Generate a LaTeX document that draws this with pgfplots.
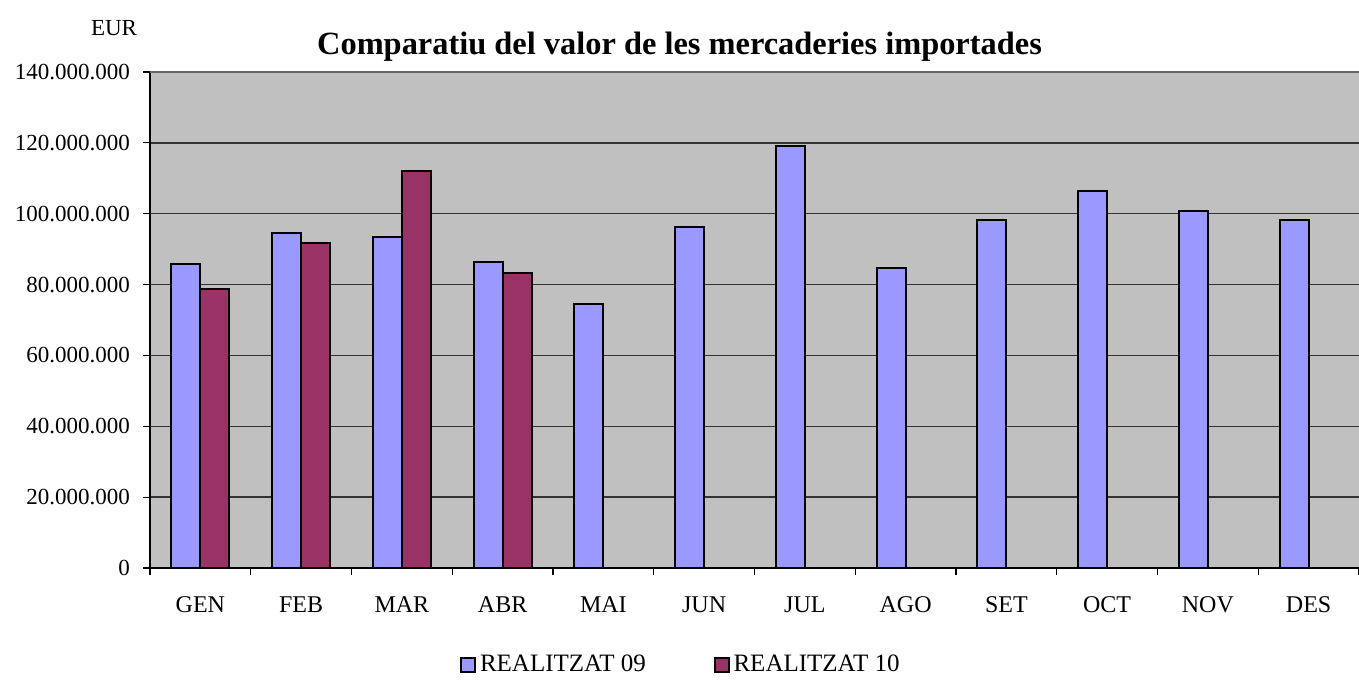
\documentclass[border=0pt]{standalone}
\usepackage{pgfplots}
\pgfplotsset{compat=1.18}
\usepackage{fontspec}
\setmainfont{Liberation Serif}
\definecolor{bg}{HTML}{C0C0C0}
\definecolor{c09}{HTML}{9999FF}
\definecolor{c10}{HTML}{993366}
\begin{document}
\begin{tikzpicture}
\path[use as bounding box] (0,0) rectangle (679.5pt,342pt);
\begin{axis}[
  at={(75pt,58pt)}, anchor=south west,
  scale only axis, width=604.5pt, height=248pt,
  xmin=0.5, xmax=12.5, ymin=0, ymax=140000000,
  ybar=0pt, bar width=14.5pt,
  axis background/.style={fill=bg},
  axis x line*=bottom, axis y line*=left,
  axis line style={black, line width=0.8pt},
  ytick={0,20000000,...,120000000},
  extra y ticks={140000000},
  extra y tick style={grid style={gray!80!black, line width=0.9pt}},
  ymajorgrids, grid style={black!80, line width=0.7pt},
  scaled y ticks=false,
  yticklabel style={/pgf/number format/fixed, /pgf/number format/precision=0, /pgf/number format/1000 sep={.}, /pgf/number format/assume math mode=true,
    font=\fontsize{11.5}{13}\selectfont, xshift=-3pt},
  xtick={0.5,1.5,...,12.5}, xticklabels={},
  extra x ticks={1,...,12},
  extra x tick labels={GEN,FEB,MAR,ABR,MAI,JUN,JUL,AGO,SET,OCT,NOV,DES},
  extra x tick style={major tick length=0pt, grid=none, tick label style={font=\fontsize{12}{14}\selectfont, yshift=-11pt}},
  tick align=outside, major tick length=3.5pt,
  tick style={black, line width=0.6pt},
  legend style={at={(0.44,-0.1956)}, anchor=center, draw=none, fill=none,
    legend columns=2, font=\fontsize{12.5}{14}\selectfont,
    /tikz/every even column/.append style={column sep=32pt}},
  legend image code/.code={\draw[#1, line width=0.8pt] (0pt,-3.5pt) rectangle (7pt,3.5pt);},
  legend cell align=left,
]
\addplot[fill=c09, draw=black, line width=1pt] coordinates {
(1,85800000) (2,94500000) (3,93400000) (4,86400000) (5,74500000) (6,96200000)
(7,119100000) (8,84700000) (9,98200000) (10,106400000) (11,100800000) (12,98200000)};
\addplot[fill=c10, draw=black, line width=1pt] coordinates {
(1,78700000) (2,91700000) (3,112000000) (4,83300000)};
\legend{REALITZAT 09, REALITZAT 10}
\end{axis}
\node[font=\fontsize{16.2}{18}\selectfont\bfseries] at (339.75pt,318.5pt) {Comparatiu del valor de les mercaderies importades};
\node[font=\fontsize{11.5}{13}\selectfont] at (57pt,328pt) {EUR};
\end{tikzpicture}
\end{document}
